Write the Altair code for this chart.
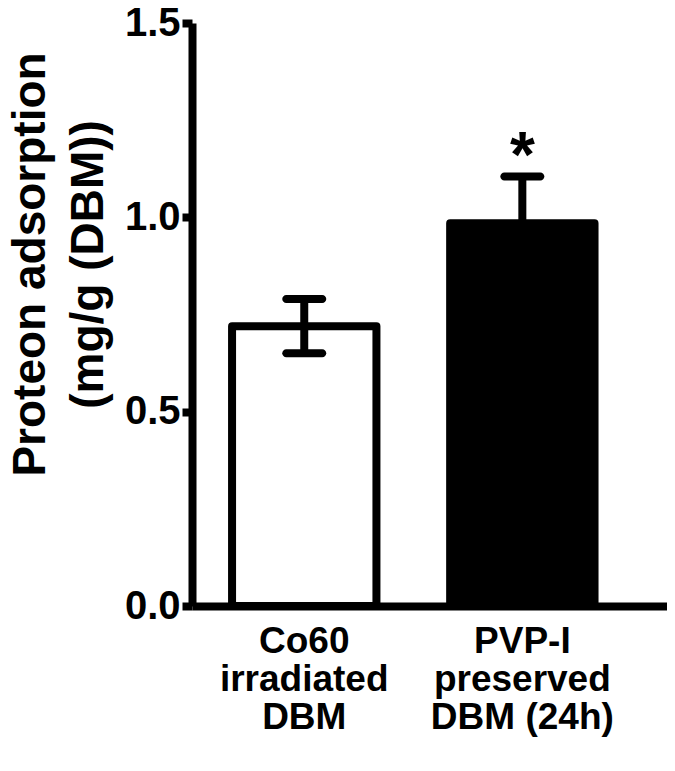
import altair as alt
import pandas as pd

# ---- data ----
categories = ["Co60\nirradiated\nDBM", "PVP-I\npreserved\nDBM (24h)"]
means = [0.72, 0.985]
sems = [0.07, 0.12]
fills = ["white", "black"]
sig = ["", "*"]
y_ticks = [0.0, 0.5, 1.0, 1.5]

df = pd.DataFrame({
    "group": categories,
    "mean": means,
    "lo": [m - s for m, s in zip(means, sems)],
    "hi": [m + s for m, s in zip(means, sems)],
    "sig": sig,
})

FONT = "Liberation Sans, Arial, Helvetica"

xscale = alt.Scale(domain=categories, paddingInner=0.338, paddingOuter=0.258, align=0.356)
yscale = alt.Scale(domain=[0, 1.5], nice=False, zero=True)

x_enc = alt.X(
    "group:N",
    scale=xscale,
    sort=categories,
    axis=alt.Axis(
        title=None,
        labelAngle=0,
        ticks=False,
        tickSize=0,
        labelFont=FONT,
        labelFontWeight="bold",
        labelFontSize=37,
        labelLineHeight=38,
        labelLimit=0,
        labelColor="black",
        labelPadding=17,
        labelBaseline="top",
        labelExpr="split(datum.label, '\\n')",
        domainColor="black",
        domainWidth=8,
    ),
)

y_axis = alt.Axis(
    title=["Proteon adsorption", "(mg/g (DBM))"],
    titleFont=FONT,
    titleFontWeight="bold",
    titleFontSize=46,
    titleLineHeight=58,
    titleColor="black",
    titleAngle=270,
    titleAlign="center",
    titleBaseline="top",
    titleX=-184,
    titleY=241,
    titleLimit=0,
    values=y_ticks,
    format=".1f",
    labelFont=FONT,
    labelFontWeight="bold",
    labelFontSize=40,
    labelColor="black",
    labelPadding=2,
    labelFlush=False,
    tickSize=10,
    tickWidth=8,
    tickColor="black",
    domainColor="black",
    domainWidth=8,
    grid=False,
)

base = alt.Chart(df)

bars = base.mark_bar(stroke="black", strokeWidth=8, strokeJoin="round").encode(
    x=x_enc,
    y=alt.Y("mean:Q", scale=yscale, axis=y_axis),
    fill=alt.Fill("group:N", scale=alt.Scale(domain=categories, range=fills), legend=None),
)

err_rule = base.mark_rule(color="black", strokeWidth=8).encode(
    x=alt.X("group:N", scale=xscale, sort=categories),
    y=alt.Y("lo:Q", scale=yscale),
    y2="hi:Q",
)

cap_hi = base.mark_tick(color="black", orient="horizontal", size=44, thickness=8,
                        cornerRadius=4, opacity=1).encode(
    x=alt.X("group:N", scale=xscale, sort=categories),
    y=alt.Y("hi:Q", scale=yscale),
)
cap_lo = base.mark_tick(color="black", orient="horizontal", size=44, thickness=8,
                        cornerRadius=4, opacity=1).encode(
    x=alt.X("group:N", scale=xscale, sort=categories),
    y=alt.Y("lo:Q", scale=yscale),
)

star = base.mark_text(font=FONT, fontWeight="bold", fontSize=64,
                      color="black", baseline="alphabetic", align="center", dy=0).encode(
    x=alt.X("group:N", scale=xscale, sort=categories),
    y=alt.Y("hi:Q", scale=yscale),
    text="sig:N",
)

chart = alt.layer(bars, err_rule, cap_hi, cap_lo, star).properties(
    width=475,
    height=583,
    background="white",
    autosize=alt.AutoSizeParams(type="none"),
    padding={"left": 184, "top": 15, "right": 0, "bottom": 150},
).configure_view(stroke="transparent", strokeWidth=0)

chart.save("out.html", embed_options={"renderer": "svg", "actions": False})
